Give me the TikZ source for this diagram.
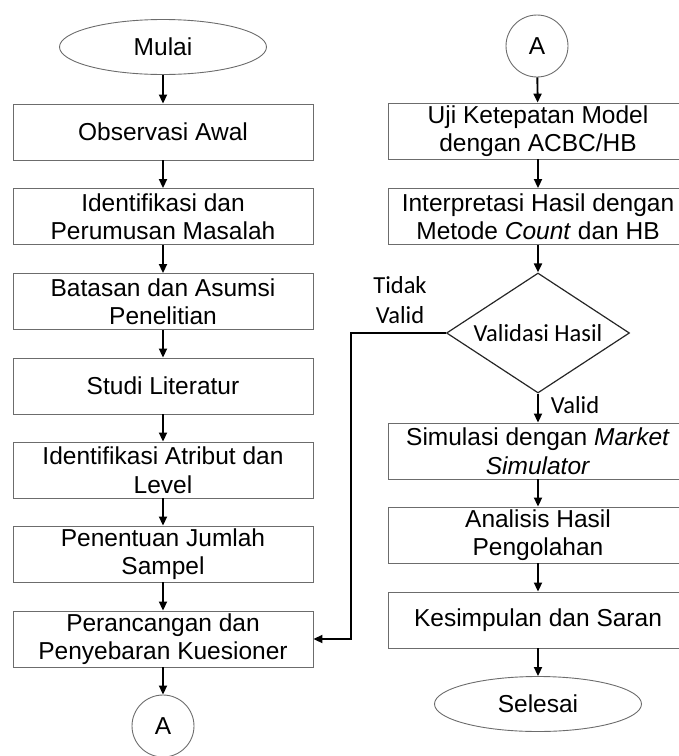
\documentclass[tikz,border=0pt]{standalone}
\usepackage{fontspec}
\setmainfont{Liberation Sans}
\newfontfamily\labelfont{Carlito}
\usetikzlibrary{shapes.geometric,arrows.meta}

\begin{document}
\begin{tikzpicture}[x=1pt,y=-1pt]
\tikzstyle{every node}+=[inner sep=0pt]
\tikzstyle{proses}=[draw=gray!85!black, line width=0.9pt, minimum width=300pt, minimum height=56pt, align=center, font=\fontsize{24.5}{28.5}\selectfont]
\tikzstyle{terminal}=[draw=gray!85!black, line width=0.9pt, ellipse, minimum width=207pt, minimum height=55pt, font=\fontsize{24.5}{28.5}\selectfont]
\tikzstyle{konektor}=[draw=gray!85!black, line width=0.9pt, circle, minimum size=62pt, font=\fontsize{24.5}{28.5}\selectfont]
\tikzstyle{keputusan}=[draw=black!85, line width=1.2pt, diamond, aspect=1.5, minimum width=183pt, minimum height=120pt, font=\labelfont\fontsize{24.5}{28}\selectfont]
\tikzstyle{ket}=[align=center, font=\labelfont\fontsize{24.5}{30}\selectfont]
\tikzstyle{panah}=[line width=1.9pt, -{Triangle[length=9pt,width=8pt]}]
\useasboundingbox (0,0) rectangle (679,756);
% kolom kiri
\node [terminal] (mulai) at (163,47) {Mulai};
\node [proses] (observasi) at (163,132) {Observasi Awal};
\node [proses] (masalah) at (163,216.5) {Identifikasi dan\\Perumusan Masalah};
\node [proses] (batasan) at (163,301.5) {Batasan dan Asumsi\\Penelitian};
\node [proses] (literatur) at (163,386) {Studi Literatur};
\node [proses] (atribut) at (163,470) {Identifikasi Atribut dan\\Level};
\node [proses] (sampel) at (163,554) {Penentuan Jumlah\\Sampel};
\node [proses] (kuesioner) at (163,639) {Perancangan dan\\Penyebaran Kuesioner};
\node [konektor] (konA) at (163,726) {A};
% kolom kanan
\node [konektor] (konB) at (537,46) {A};
\node [proses] (uji) at (538,131) {Uji Ketepatan Model\\dengan ACBC/HB};
\node [proses] (interpretasi) at (538,216.5) {Interpretasi Hasil dengan\\Metode \textit{Count} dan HB};
\node [keputusan] (validasi) at (538,333) {Validasi Hasil};
\node [proses] (simulasi) at (538,451) {Simulasi dengan \textit{Market}\\\textit{Simulator}};
\node [proses] (analisis) at (538,535) {Analisis Hasil\\Pengolahan};
\node [proses] (kesimpulan) at (538,620) {Kesimpulan dan Saran};
\node [terminal] (selesai) at (538,704) {Selesai};
\node [ket] (tidakvalid) at (400,300) {Tidak\\Valid};
\node [ket] (valid) at (575,405) {Valid};
\coordinate (belok) at (351,639);
\draw [panah] (mulai) -- (observasi);
\draw [panah] (observasi) -- (masalah);
\draw [panah] (masalah) -- (batasan);
\draw [panah] (batasan) -- (literatur);
\draw [panah] (literatur) -- (atribut);
\draw [panah] (atribut) -- (sampel);
\draw [panah] (sampel) -- (kuesioner);
\draw [panah] (kuesioner) -- (konA);
\draw [panah] (konB) -- (uji);
\draw [panah] (uji) -- (interpretasi);
\draw [panah] (interpretasi) -- (validasi);
\draw [panah] (validasi) -- (simulasi);
\draw [panah] (simulasi) -- (analisis);
\draw [panah] (analisis) -- (kesimpulan);
\draw [panah] (kesimpulan) -- (selesai);
\draw [panah] (validasi.west) -| (belok) -- (kuesioner.east);
\end{tikzpicture}
\end{document}
